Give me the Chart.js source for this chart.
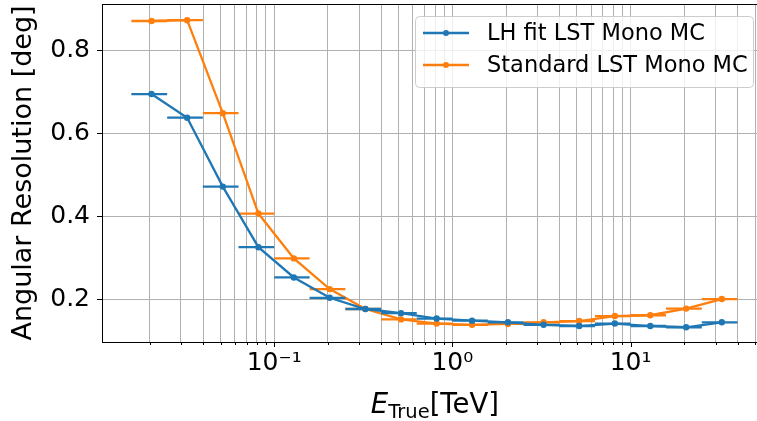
<!DOCTYPE html>
<html lang="en">
<head>
    <meta charset="UTF-8">
    <title>Angular Resolution</title>
    <script src="https://cdn.jsdelivr.net/npm/chart.js"></script>
    <style>
        html, body {
            margin: 0;
            padding: 0;
            background: #fff;
            overflow: hidden;
        }
        #wrap {
            width: 757px;
            height: 421px;
            overflow: hidden;
        }
    </style>
</head>
<body>

<div id="wrap">
    <canvas id="resChart" width="771" height="421"></canvas>
</div>

<script>
    // Energy bins [TeV]: lower edge, upper edge, bin centre
    const binLow = [0.0158, 0.0251, 0.0398, 0.0631, 0.100, 0.158, 0.251, 0.398, 0.631, 1.00, 1.58, 2.51, 3.98, 6.31, 10.0, 15.8, 25.1];
    const binHigh = [0.0251, 0.0398, 0.0631, 0.100, 0.158, 0.251, 0.398, 0.631, 1.00, 1.58, 2.51, 3.98, 6.31, 10.0, 15.8, 25.1, 39.8];
    const energy = [0.0205, 0.0325, 0.0515, 0.0816, 0.129, 0.205, 0.325, 0.515, 0.816, 1.29, 2.05, 3.25, 5.15, 8.16, 12.9, 20.5, 32.5];

    // Angular resolution [deg]
    const lhFit = [0.694, 0.637, 0.471, 0.325, 0.252, 0.203, 0.176, 0.166, 0.153, 0.148, 0.144, 0.138, 0.135, 0.141, 0.135, 0.132, 0.144];
    const standard = [0.870, 0.872, 0.648, 0.406, 0.298, 0.224, 0.176, 0.151, 0.141, 0.138, 0.140, 0.144, 0.147, 0.159, 0.161, 0.177, 0.200];

    const seriesNames = ['LH fit LST Mono MC', 'Standard LST Mono MC'];
    const seriesColors = ['#1f77b4', '#ff7f0e'];

    // tick labels
    const yTicks = [0.2, 0.4, 0.6, 0.8];
    const decades = [0.01, 0.1, 1, 10];
    const decadeLabels = { '0.1': '10⁻¹', '1': '10⁰', '10': '10¹' };

    const FONT = 'DejaVu Sans';
    const LINE_W = 2.3;

    function toPoints(vals) {
        return vals.map((v, i) => ({ x: energy[i], y: v }));
    }

    // horizontal error bars = energy bin width
    const binBars = {
        id: 'binBars',
        afterDatasetDraw(chart, args) {
            const ds = chart.data.datasets[args.index];
            const xs = chart.scales.x, ys = chart.scales.y;
            const ctx = chart.ctx;
            ctx.save();
            ctx.strokeStyle = ds.borderColor;
            ctx.lineWidth = LINE_W;
            ds.data.forEach((p, i) => {
                const y = ys.getPixelForValue(p.y);
                ctx.beginPath();
                ctx.moveTo(xs.getPixelForValue(binLow[i]), y);
                ctx.lineTo(xs.getPixelForValue(binHigh[i]), y);
                ctx.stroke();
            });
            ctx.restore();
        }
    };

    // frame, tick marks, x title, legend
    const decorations = {
        id: 'decorations',
        afterDraw(chart) {
            const ctx = chart.ctx;
            const a = chart.chartArea;
            const xs = chart.scales.x, ys = chart.scales.y;
            ctx.save();

            ctx.strokeStyle = '#000';
            ctx.lineWidth = 1;
            ctx.strokeRect(Math.round(a.left) + 0.5, Math.round(a.top) + 0.5,
                Math.round(a.right - a.left), Math.round(a.bottom - a.top));

            ctx.beginPath();
            xs.ticks.forEach(t => {
                const x = Math.round(xs.getPixelForValue(t.value)) + 0.5;
                const len = t.major ? 5 : 3;
                ctx.moveTo(x, a.bottom);
                ctx.lineTo(x, a.bottom + len);
            });
            ys.ticks.forEach(t => {
                const y = Math.round(ys.getPixelForValue(t.value)) + 0.5;
                ctx.moveTo(a.left, y);
                ctx.lineTo(a.left - 5, y);
            });
            ctx.stroke();

            // x title: E_True[TeV]
            const big = 27.5, small = 19.5;
            ctx.fillStyle = '#000';
            ctx.textBaseline = 'alphabetic';
            ctx.font = `italic ${big}px "${FONT}"`;
            const wE = ctx.measureText('E').width;
            ctx.font = `${small}px "${FONT}"`;
            const wSub = ctx.measureText('True').width;
            ctx.font = `${big}px "${FONT}"`;
            const wUnit = ctx.measureText('[TeV]').width;
            let x = (a.left + a.right) / 2 - (wE + wSub + wUnit) / 2;
            const base = 413;
            ctx.textAlign = 'left';
            ctx.font = `italic ${big}px "${FONT}"`;
            ctx.fillText('E', x, base);
            x += wE;
            ctx.font = `${small}px "${FONT}"`;
            ctx.fillText('True', x, base + 5);
            x += wSub;
            ctx.font = `${big}px "${FONT}"`;
            ctx.fillText('[TeV]', x, base);

            // legend
            const bx = 415, by = 16, bw = 338, bh = 71;
            ctx.beginPath();
            ctx.roundRect(bx + 0.5, by + 0.5, bw, bh, 4);
            ctx.fillStyle = 'rgba(255,255,255,0.8)';
            ctx.fill();
            ctx.strokeStyle = '#cccccc';
            ctx.lineWidth = 1;
            ctx.stroke();
            ctx.font = `22.5px "${FONT}"`;
            ctx.textBaseline = 'middle';
            seriesNames.forEach((name, i) => {
                const ry = 33 + i * 32;
                ctx.strokeStyle = seriesColors[i];
                ctx.lineWidth = LINE_W;
                ctx.beginPath();
                ctx.moveTo(423, ry);
                ctx.lineTo(469, ry);
                ctx.stroke();
                ctx.fillStyle = seriesColors[i];
                ctx.beginPath();
                ctx.arc(446, ry, 3, 0, Math.PI * 2);
                ctx.fill();
                ctx.fillStyle = '#000';
                ctx.fillText(name, 487, ry + 1);
            });
            ctx.restore();
        }
    };

    const ctx = document.getElementById('resChart').getContext('2d');
    new Chart(ctx, {
        type: 'line',
        data: {
            datasets: [lhFit, standard].map((vals, i) => ({
                label: seriesNames[i],
                data: toPoints(vals),
                borderColor: seriesColors[i],
                backgroundColor: seriesColors[i],
                borderWidth: LINE_W,
                pointRadius: 3.2,
                pointBorderWidth: 0,
                pointHoverRadius: 3.2,
                tension: 0,
                fill: false
            }))
        },
        options: {
            responsive: false,
            animation: false,
            events: [],
            layout: { padding: { top: 4, right: 0, left: 0, bottom: 0 } },
            plugins: {
                legend: { display: false },
                tooltip: { enabled: false }
            },
            scales: {
                x: {
                    type: 'logarithmic',
                    min: Math.pow(10, -1.966),
                    max: Math.pow(10, 1.77),
                    afterFit(scale) {
                        scale.height = 79;
                        scale.paddingLeft = 0;
                        scale.paddingRight = 0;
                    },
                    afterBuildTicks(scale) {
                        const ticks = [];
                        decades.forEach(d => {
                            for (let k = 1; k <= 9; k++) {
                                const v = +(d * k).toPrecision(3);
                                if (v >= scale.min && v <= scale.max) {
                                    ticks.push({ value: v, major: k === 1 });
                                }
                            }
                        });
                        scale.ticks = ticks;
                    },
                    grid: {
                        color: '#b0b0b0',
                        lineWidth: 1,
                        drawTicks: false
                    },
                    border: { display: false },
                    ticks: {
                        autoSkip: false,
                        maxRotation: 0,
                        padding: 6,
                        color: '#000',
                        font: { family: FONT, size: 25 },
                        callback(value) {
                            return decadeLabels[String(value)] || '';
                        }
                    }
                },
                y: {
                    min: 0.0965,
                    max: 0.911,
                    afterFit(scale) {
                        scale.width = 102;
                        scale.paddingTop = 0;
                        scale.paddingBottom = 0;
                    },
                    afterBuildTicks(scale) {
                        scale.ticks = yTicks.map(v => ({ value: v }));
                    },
                    grid: {
                        color: '#b0b0b0',
                        lineWidth: 1,
                        drawTicks: false
                    },
                    border: { display: false },
                    ticks: {
                        padding: 12,
                        color: '#000',
                        font: { family: FONT, size: 25 },
                        callback(value) { return value.toFixed(1); }
                    },
                    title: {
                        display: true,
                        text: 'Angular Resolution [deg]',
                        color: '#000',
                        font: { family: FONT, size: 27 },
                        padding: { top: 8, bottom: 0 }
                    }
                }
            }
        },
        plugins: [binBars, decorations]
    });
</script>

</body>
</html>
